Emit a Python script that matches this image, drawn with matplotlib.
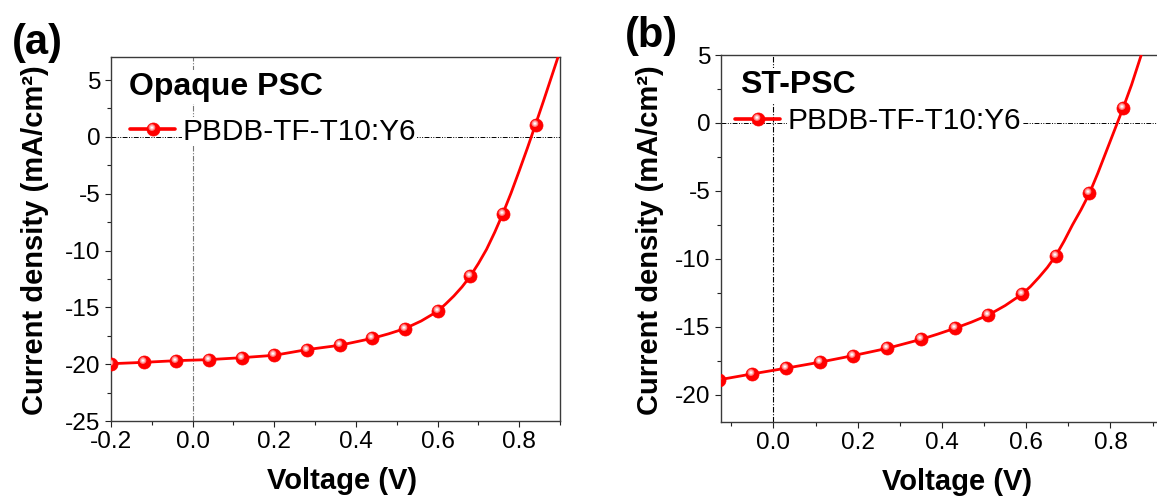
import matplotlib
matplotlib.use("Agg")
import matplotlib.pyplot as plt
from matplotlib.path import Path
from matplotlib.ticker import MultipleLocator, FormatStrFormatter
from matplotlib.legend_handler import HandlerTuple

plt.rcParams['font.family'] = ['Liberation Sans', 'DejaVu Sans']
plt.rcParams['axes.unicode_minus'] = False

# ---------------- data ----------------
# Panel (a) Opaque PSC: measured points
a_v = [-0.20, -0.12, -0.04, 0.04, 0.12, 0.20, 0.28, 0.36, 0.44, 0.52, 0.60, 0.68, 0.76, 0.84]
a_j = [-19.96, -19.84, -19.69, -19.60, -19.43, -19.22, -18.72, -18.34, -17.73, -16.87,
       -15.35, -12.27, -6.75, 1.08]
# Panel (a) fitted curve readings
a_curve_v = [-0.20, -0.12, -0.04, 0.04, 0.12, 0.20, 0.28, 0.36, 0.44, 0.48, 0.52, 0.56, 0.60,
             0.62, 0.64, 0.66, 0.68, 0.70, 0.72, 0.74, 0.76, 0.78, 0.80, 0.82, 0.84, 0.86, 0.895]
a_curve_j = [-19.96, -19.84, -19.69, -19.60, -19.43, -19.22, -18.72, -18.34, -17.73, -17.33,
             -16.87, -16.2, -15.35, -14.7, -14.0, -13.2, -12.27, -11.15, -9.9, -8.4, -6.75,
             -4.95, -3.0, -1.0, 1.08, 3.2, 7.0]

# Panel (b) ST-PSC: measured points
b_v = [-0.13, -0.05, 0.03, 0.11, 0.19, 0.27, 0.35, 0.43, 0.51, 0.59, 0.67, 0.75, 0.83]
b_j = [-18.92, -18.48, -18.06, -17.62, -17.13, -16.60, -15.94, -15.13, -14.15, -12.61,
       -9.79, -5.19, 1.10]
b_curve_v = [-0.13, -0.05, 0.03, 0.11, 0.19, 0.27, 0.35, 0.39, 0.43, 0.47, 0.51, 0.55, 0.59,
             0.61, 0.63, 0.65, 0.67, 0.69, 0.71, 0.73, 0.75, 0.77, 0.79, 0.81, 0.83, 0.85, 0.873]
b_curve_j = [-18.92, -18.48, -18.06, -17.62, -17.13, -16.60, -15.94, -15.55, -15.13, -14.67,
             -14.15, -13.45, -12.61, -12.05, -11.38, -10.65, -9.79, -8.7, -7.5, -6.4, -5.19,
             -3.7, -2.1, -0.5, 1.10, 2.8, 5.0]

series_label = "PBDB-TF-T10:Y6"
panel_titles = ["Opaque PSC", "ST-PSC"]
panel_tags = ["(a)", "(b)"]
xlabel = "Voltage (V)"
ylabel = "Current density (mA/cm²)"

# ---------------- figure ----------------
W, H = 1157, 499
fig = plt.figure(figsize=(W / 100, H / 100), dpi=100)


def px_axes(left, right, top, bottom):
    return fig.add_axes([left / W, (H - bottom) / H, (right - left) / W, (bottom - top) / H])


ax_a = px_axes(111, 560, 57.3, 421)
ax_b = px_axes(720.7, 1180, 55, 421.7)


def spot_path(r, cx=-0.12, cy=0.15):
    anchor = Path([(0.5, 0.5), (-0.5, -0.5)], [Path.MOVETO, Path.MOVETO])
    return Path.make_compound_path(anchor, Path.circle((cx, cy), r))


RED = '#ff0000'
MS = 9.4


def draw_panel(ax, cv, cj, v, j, xlim, ylim, title, leg_xy, vcolor, title_xy):
    ax.set_xlim(*xlim)
    ax.set_ylim(*ylim)
    # reference lines
    ax.axhline(0, color='black', lw=0.7, ls=(0, (5, 1.5, 1, 1.5, 1, 1.5)), zorder=1)
    ax.axvline(0, color=vcolor, lw=0.8, ls=(0, (5, 1.5, 1, 1.5)), zorder=1)
    curve, = ax.plot(cv, cj, color=RED, lw=2.0, zorder=3, solid_capstyle='round',
                     solid_joinstyle='round')
    marks, = ax.plot(v, j, ls='none', marker='o', ms=MS, mfc=RED, mec=RED, mew=0.5, zorder=4)
    s1, = ax.plot(v, j, ls='none', marker=spot_path(0.26), ms=MS, mfc='#ff7a7a', mew=0, zorder=5)
    s2, = ax.plot(v, j, ls='none', marker=spot_path(0.17), ms=MS, mfc='#ffc4c4', mew=0, zorder=6)
    s3, = ax.plot(v, j, ls='none', marker=spot_path(0.08), ms=MS, mfc='#ffffff', mew=0, zorder=7)

    ax.xaxis.set_major_locator(MultipleLocator(0.2))
    ax.xaxis.set_minor_locator(MultipleLocator(0.1))
    ax.xaxis.set_major_formatter(FormatStrFormatter('%.1f'))
    ax.yaxis.set_major_locator(MultipleLocator(5))
    ax.yaxis.set_minor_locator(MultipleLocator(2.5))
    ax.yaxis.set_major_formatter(FormatStrFormatter('%d'))
    ax.tick_params(which='both', direction='out', top=False, right=False, color='#222222',
                   width=0.8, labelsize=17.6, pad=3)
    ax.tick_params(which='major', length=4.5)
    ax.tick_params(which='minor', length=2.6)
    for s in ax.spines.values():
        s.set_color('#3a3a3a')
        s.set_linewidth(1.0)

    ax.text(title_xy[0], title_xy[1], title, transform=ax.transAxes, fontsize=23,
            fontweight='bold', ha='left', va='baseline', zorder=8,
            bbox=dict(facecolor='white', edgecolor='none', pad=1.5))

    leg = ax.legend([(curve, marks, s1, s2, s3)], [series_label],
                    handler_map={tuple: HandlerTuple(ndivide=1, pad=0)},
                    loc='center left', bbox_to_anchor=leg_xy, frameon=False,
                    fontsize=21.4, handlelength=1.52, handletextpad=0.25,
                    borderpad=0, borderaxespad=0)
    leg.set_zorder(9)
    for line in leg.get_lines():
        line.set_linewidth(2.6)
    for t in leg.get_texts():
        t.set_bbox(dict(facecolor='white', edgecolor='none', pad=0.5))

    ax.set_xlabel(xlabel, fontsize=21, fontweight='bold')
    ax.set_ylabel(ylabel, fontsize=21, fontweight='bold')


draw_panel(ax_a, a_curve_v, a_curve_j, a_v, a_j, (-0.2, 0.9), (-25, 7),
           panel_titles[0], (0.0423, 0.795), '#777777', (0.0408, 0.8963))
draw_panel(ax_b, b_curve_v, b_curve_j, b_v, b_j, (-0.125, 0.965), (-22, 5),
           panel_titles[1], (0.031, 0.82), 'black', (0.042, 0.8956))

ax_a.xaxis.set_label_coords(0.514, -0.165)
ax_a.yaxis.set_label_coords(-0.169, 0.498)
ax_b.xaxis.set_label_coords(0.5145, -0.165)
ax_b.yaxis.set_label_coords(-0.154, 0.495)
for ax in (ax_a, ax_b):
    ax.xaxis.label.set_va('center')
    ax.yaxis.label.set_va('center')

fig.text(37 / W, 1 - 43 / H, panel_tags[0], fontsize=30, fontweight='bold', ha='center', va='center')
fig.text(651.5 / W, 1 - 36 / H, panel_tags[1], fontsize=30, fontweight='bold', ha='center', va='center')

fig.savefig("out.png", dpi=100)
